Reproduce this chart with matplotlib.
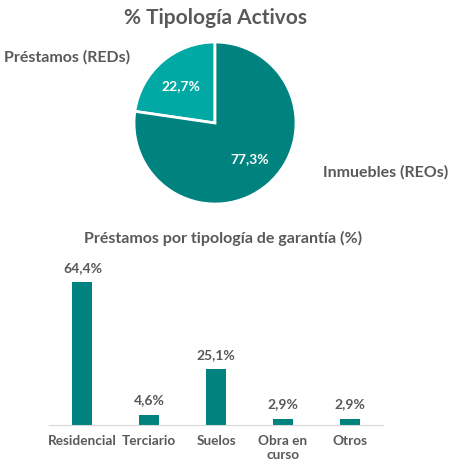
import matplotlib
matplotlib.use("Agg")
import matplotlib.pyplot as plt

pie_labels = ["Préstamos (REDs)", "Inmuebles (REOs)"]
pie_values = [22.7, 77.3]
pie_colors = ["#00A9A4", "#00827F"]

bar_categories = ["Residencial", "Terciario", "Suelos", "Obra en\ncurso", "Otros"]
bar_values = [64.4, 4.6, 25.1, 2.9, 2.9]
bar_color = "#00827F"

plt.rcParams['font.family'] = ['Lato', 'DejaVu Sans']
txt = "#595959"

W, H = 458, 473
fig = plt.figure(figsize=(W/100, H/100), dpi=100)

def px(l, t, w, h):
    return [l/W, 1 - (t+h)/H, w/W, h/H]

# Pie
axp = fig.add_axes(px(134, 42, 162, 162))
wedges, _ = axp.pie(pie_values, colors=pie_colors, startangle=90, counterclock=True,
                    wedgeprops=dict(edgecolor="white", linewidth=2))
axp.set_aspect("equal")
axp.set_xlim(-1, 1); axp.set_ylim(-1, 1)
fmt = lambda v: f"{v:.1f}".replace(".", ",") + "%"
axp.text(-0.42, 0.45, fmt(pie_values[0]), color="white", fontsize=10, fontweight="bold",
         ha="center", va="center")
axp.text(0.43, -0.45, fmt(pie_values[1]), color="white", fontsize=10, fontweight="bold",
         ha="center", va="center")

fig.text(215/W, 1 - 18/H, "% Tipología Activos", ha="center", va="center",
         fontsize=15, fontweight="bold", color=txt)
fig.text(67/W, 1 - 57/H, pie_labels[0], ha="center", va="center",
         fontsize=11.5, fontweight="bold", color=txt)
fig.text(386/W, 1 - 172/H, pie_labels[1], ha="center", va="center",
         fontsize=11.5, fontweight="bold", color=txt)

# Bars
top = 425 - 70 * 143/64.4
axb = fig.add_axes(px(49, top, 334, 425 - top))
x = range(len(bar_categories))
bars = axb.bar(x, bar_values, width=0.3, color=bar_color)
axb.set_xlim(-0.5, len(bar_categories) - 0.5)
axb.set_ylim(0, 70)
for s in ["top", "right", "left"]:
    axb.spines[s].set_visible(False)
axb.spines["bottom"].set_color("#D9D9D9")
axb.set_yticks([])
axb.set_xticks(list(x))
axb.set_xticklabels(bar_categories, fontsize=9.8, color=txt, fontweight="bold", linespacing=1.2)
axb.tick_params(axis="x", length=0, pad=7)
for xi, v in zip(x, bar_values):
    axb.annotate(fmt(v), (xi, v), xytext=(0, 6), textcoords="offset points",
                 ha="center", va="bottom", fontsize=10, fontweight="bold", color=txt)

fig.text(223/W, 1 - 238/H, "Préstamos por tipología de garantía (%)", ha="center", va="center",
         fontsize=11.5, fontweight="bold", color=txt)

fig.savefig("out.png", dpi=100, facecolor="white")
